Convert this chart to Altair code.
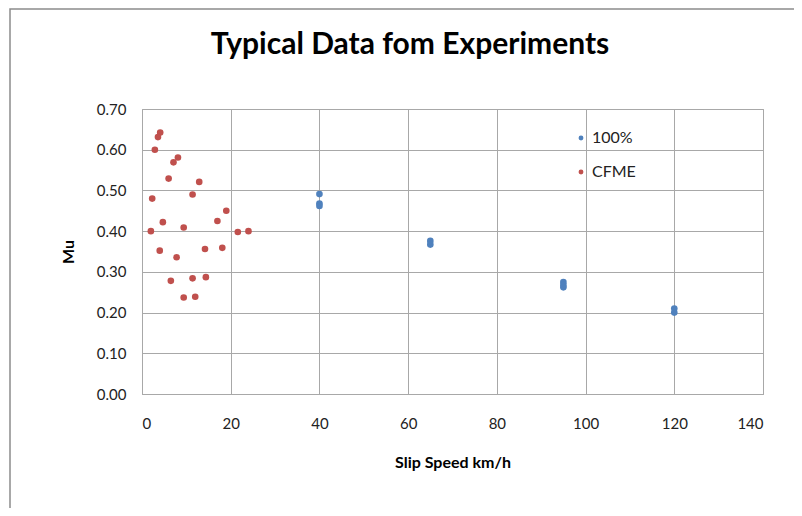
import altair as alt
import pandas as pd

# Series: 100%
s100_speed = [40, 40, 40, 65, 65, 95, 95, 95, 120, 120]
s100_mu = [0.491, 0.468, 0.462, 0.376, 0.367, 0.275, 0.268, 0.262, 0.210, 0.200]

# Series: CFME
cfme_speed = [4.1, 3.6, 2.9, 8.1, 7.1, 6.0, 12.9, 2.3, 11.4, 19.0, 17.0, 4.7, 2.0,
              9.4, 21.6, 24.0, 4.0, 7.8, 14.2, 18.1, 6.5, 11.4, 14.4, 9.4, 12.0]
cfme_mu = [0.642, 0.631, 0.600, 0.581, 0.569, 0.529, 0.521, 0.480, 0.490, 0.450, 0.425,
           0.422, 0.400, 0.409, 0.398, 0.400, 0.352, 0.336, 0.356, 0.359, 0.278, 0.284,
           0.287, 0.237, 0.239]

series_names = ["100%", "CFME"]
series_colors = ["#4F81BD", "#C0504D"]
x_ticks = [0, 20, 40, 60, 80, 100, 120, 140]
y_ticks = [0.0, 0.1, 0.2, 0.3, 0.4, 0.5, 0.6, 0.7]
title_text = "Typical Data fom Experiments"

df = pd.concat([
    pd.DataFrame({"speed": s100_speed, "mu": s100_mu, "series": series_names[0]}),
    pd.DataFrame({"speed": cfme_speed, "mu": cfme_mu, "series": series_names[1]}),
])

FONT = "Lato"
GRID = "#a8a8a8"

points = alt.Chart(df).mark_circle(size=44, opacity=1).encode(
    x=alt.X("speed:Q", scale=alt.Scale(domain=[0, 140], nice=False),
            axis=alt.Axis(values=x_ticks, title="Slip Speed km/h", grid=True,
                          gridColor=GRID, domainColor=GRID, ticks=False,
                          labelPadding=22, labelFontSize=15, labelFont=FONT,
                          labelColor="#222", titleFont=FONT, titleFontSize=16,
                          titleFontWeight="bold", titleColor="#000",
                          titleY=68, titleBaseline="middle")),
    y=alt.Y("mu:Q", scale=alt.Scale(domain=[0, 0.7], nice=False),
            axis=alt.Axis(values=y_ticks, format=".2f", title="Mu", grid=True,
                          gridColor=GRID, domainColor=GRID, ticks=False,
                          labelPadding=16, labelFontSize=15, labelFont=FONT,
                          labelColor="#222", titleFont=FONT, titleFontSize=16,
                          titleFontWeight="bold", titleColor="#000",
                          titleX=-74, titleY=142.5, titleAlign="center",
                          titleBaseline="middle")),
    color=alt.Color("series:N",
                    scale=alt.Scale(domain=series_names, range=series_colors),
                    legend=alt.Legend(title=None, orient="none", legendX=431,
                                      legendY=21, symbolSize=24, symbolType="circle",
                                      labelFont=FONT, labelFontSize=16,
                                      labelColor="#222", rowPadding=18,
                                      labelOffset=3)),
)

border = alt.Chart(alt.Data(values=[{}])).mark_rect(
    fill=None, stroke="#8c8c8c", strokeWidth=1.5
).encode(
    x=alt.value(-132), x2=alt.value(700), y=alt.value(-100), y2=alt.value(500)
)

title = alt.Chart(alt.Data(values=[{"t": title_text}])).mark_text(
    font=FONT, fontSize=30, fontWeight="bold", color="#000",
    align="center", baseline="middle"
).encode(
    text="t:N", x=alt.value(268), y=alt.value(-64)
)

chart = alt.layer(border, points, title).properties(
    width=621, height=285,
    padding={"left": 134, "top": 101, "right": 31, "bottom": 114},
    autosize=alt.AutoSizeParams(type="none"),
).configure_view(stroke=GRID)

chart.save("out.html", embed_options={"renderer": "svg", "actions": False})
